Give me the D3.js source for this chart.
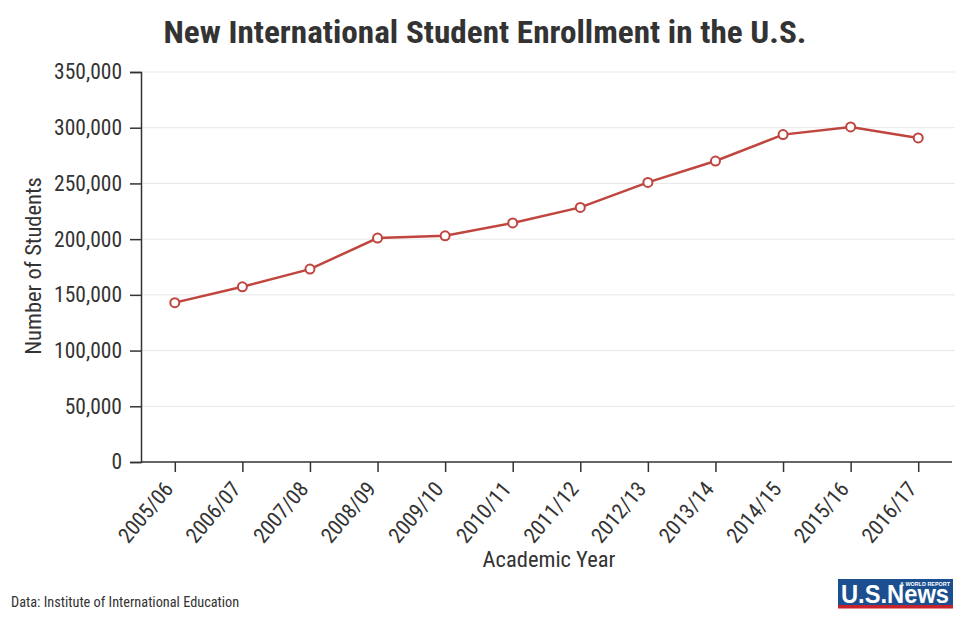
<!DOCTYPE html>
<html>
<head>
<meta charset="utf-8">
<title>New International Student Enrollment</title>
<script src="https://d3js.org/d3.v7.min.js"></script>
<style>
body { margin: 0; padding: 0; background: #fff; }
svg text { font-family: "Roboto Condensed", Roboto, "Noto Sans", sans-serif; fill: #333; }
</style>
</head>
<body>
<svg id="chart" width="972" height="618"></svg>
<script>

// data
var years = ['2005/06','2006/07','2007/08','2008/09','2009/10','2010/11',
             '2011/12','2012/13','2013/14','2014/15','2015/16','2016/17'];
var students = [143000, 157200, 173100, 201000, 203000, 214500,
                228500, 250900, 270100, 293800, 300700, 290800];
var yTicks = [0, 50000, 100000, 150000, 200000, 250000, 300000, 350000];

var margin = {top: 72, right: 17, bottom: 156, left: 141},
    width = 972 - margin.left - margin.right,
    height = 618 - margin.top - margin.bottom;

var svg = d3.select("#chart");
var g = svg.append("g")
    .attr("transform", "translate(" + margin.left + "," + margin.top + ")");

var x = d3.scalePoint().domain(years).range([0, width - 3]).padding(0.5);
var y = d3.scaleLinear().domain([0, 350000]).range([height, 0]);

// grid
g.append("g")
  .selectAll("line")
  .data(yTicks.slice(1))
  .enter().append("line")
  .attr("x1", 0).attr("x2", width)
  .attr("y1", function(d) { return y(d); })
  .attr("y2", function(d) { return y(d); })
  .attr("stroke", "#e8e8e8")
  .attr("stroke-width", 1);

// y axis
var gy = g.append("g")
  .call(d3.axisLeft(y).tickValues(yTicks).tickFormat(d3.format(",")).tickSize(11).tickPadding(8));
gy.selectAll("path, line").attr("stroke", "#333").attr("stroke-width", 1.5);
gy.selectAll("text").style("font-size", "21.5px").attr("fill", "#333");

// x axis
var gx = g.append("g")
  .attr("transform", "translate(0," + height + ")")
  .call(d3.axisBottom(x).tickSize(10).tickSizeOuter(0));
gx.select(".domain").attr("d", "M0,0H" + (width - 3));
gx.selectAll("path, line").attr("stroke", "#333").attr("stroke-width", 1.5);
gx.selectAll("text")
  .attr("x", 0).attr("y", 0).attr("dy", 0)
  .attr("transform", "translate(-1,27.5) rotate(-50)")
  .style("text-anchor", "end")
  .style("font-size", "21.5px")
  .attr("fill", "#333");

// line + markers
var line = d3.line()
  .x(function(d, i) { return x(years[i]); })
  .y(function(d) { return y(d); });

g.append("path")
  .datum(students)
  .attr("d", line)
  .attr("fill", "none")
  .attr("stroke", "#c0453f")
  .attr("stroke-width", 2.5);

g.selectAll(".dot")
  .data(students)
  .enter().append("circle")
  .attr("class", "dot")
  .attr("cx", function(d, i) { return x(years[i]); })
  .attr("cy", function(d) { return y(d); })
  .attr("r", 4.5)
  .attr("fill", "#fff")
  .attr("stroke", "#c0453f")
  .attr("stroke-width", 2);

// titles
svg.append("text")
  .attr("x", 485).attr("y", 43)
  .attr("text-anchor", "middle")
  .attr("textLength", 643).attr("lengthAdjust", "spacingAndGlyphs")
  .style("font-size", "31px").style("font-weight", "bold")
  .text("New International Student Enrollment in the U.S.");

svg.append("text")
  .attr("x", 549).attr("y", 567)
  .attr("text-anchor", "middle")
  .style("font-size", "22.5px")
  .text("Academic Year");

svg.append("text")
  .attr("transform", "translate(41,266) rotate(-90)")
  .attr("text-anchor", "middle")
  .style("font-size", "22.5px")
  .text("Number of Students");

svg.append("text")
  .attr("x", 11).attr("y", 607)
  .style("font-size", "14.3px")
  .text("Data: Institute of International Education");

// logo
var logo = svg.append("g").attr("transform", "translate(838,579)");
logo.append("rect").attr("width", 115).attr("height", 26).attr("fill", "#1c4f90");
logo.append("rect").attr("y", 26).attr("width", 115).attr("height", 3.5).attr("fill", "#c8232c");
logo.append("text")
  .attr("x", 3).attr("y", 24)
  .attr("textLength", 108).attr("lengthAdjust", "spacingAndGlyphs")
  .style("font-family", "'Liberation Sans', Arial, sans-serif")
  .style("font-size", "25px").style("font-weight", "bold").style("fill", "#fff")
  .text("U.S.News");
logo.append("text")
  .attr("x", 112).attr("y", 6.5)
  .attr("text-anchor", "end")
  .attr("textLength", 50).attr("lengthAdjust", "spacingAndGlyphs")
  .style("font-family", "'Liberation Sans', Arial, sans-serif")
  .style("font-size", "5.5px").style("font-weight", "bold").style("fill", "#fff")
  .text("& WORLD REPORT");

</script>
</body>
</html>
